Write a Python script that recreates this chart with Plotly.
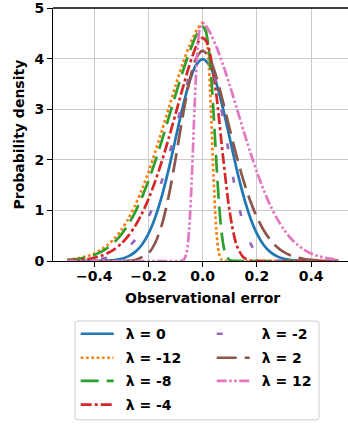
import plotly.graph_objects as go

# ---------------- data ----------------
# lambda = 0
x_l0 = [-0.5, -0.475, -0.45, -0.425, -0.4, -0.375, -0.35, -0.325, -0.3, -0.275, -0.25, -0.225,
        -0.2, -0.175, -0.15, -0.125, -0.1, -0.075, -0.05, -0.025, 0.0, 0.025, 0.05, 0.075, 0.1,
        0.125, 0.15, 0.175, 0.2, 0.225, 0.25, 0.275, 0.3, 0.325, 0.35, 0.375, 0.4, 0.425, 0.45,
        0.475, 0.5]
y_l0 = [0.0, 0.0, 0.0002, 0.0005, 0.0013, 0.0035, 0.0087, 0.0203, 0.0443, 0.0909, 0.1753, 0.3174,
        0.540, 0.863, 1.295, 1.826, 2.420, 3.011, 3.521, 3.867, 3.989, 3.867, 3.521, 3.011, 2.420,
        1.826, 1.295, 0.863, 0.540, 0.3174, 0.1753, 0.0909, 0.0443, 0.0203, 0.0087, 0.0035, 0.0013,
        0.0005, 0.0002, 0.0, 0.0]

# lambda = -12
x_lm12 = [-0.5, -0.475, -0.45, -0.425, -0.4, -0.375, -0.35, -0.325, -0.3, -0.275, -0.25, -0.225,
          -0.2, -0.175, -0.15, -0.125, -0.1, -0.075, -0.05, -0.03, -0.02, -0.01, 0.0, 0.01, 0.02,
          0.03, 0.04, 0.05, 0.06, 0.07, 0.08, 0.09, 0.1, 0.3, 0.5]
y_lm12 = [0.025, 0.041, 0.065, 0.100, 0.150, 0.222, 0.319, 0.449, 0.618, 0.831, 1.092, 1.402,
          1.760, 2.158, 2.587, 3.031, 3.469, 3.881, 4.243, 4.482, 4.581, 4.661, 4.705, 4.606, 4.117,
          3.038, 1.666, 0.625, 0.152, 0.023, 0.002, 0.0, 0.0, 0.0, 0.0]

# lambda = -8
x_lm8 = [-0.5, -0.475, -0.45, -0.425, -0.4, -0.375, -0.35, -0.325, -0.3, -0.275, -0.25, -0.225,
         -0.2, -0.175, -0.15, -0.125, -0.1, -0.075, -0.05, -0.03, -0.02, -0.01, 0.0, 0.01, 0.02,
         0.03, 0.04, 0.05, 0.06, 0.07, 0.08, 0.09, 0.1, 0.11, 0.12, 0.15, 0.3, 0.5]
y_lm8 = [0.019, 0.031, 0.050, 0.079, 0.120, 0.180, 0.264, 0.377, 0.527, 0.718, 0.958, 1.247,
         1.586, 1.971, 2.392, 2.837, 3.287, 3.721, 4.114, 4.385, 4.498, 4.588, 4.628, 4.560, 4.296,
         3.750, 2.933, 1.992, 1.147, 0.548, 0.214, 0.068, 0.017, 0.004, 0.001, 0.0, 0.0, 0.0]

# lambda = -4
x_lm4 = [-0.5, -0.475, -0.45, -0.425, -0.4, -0.375, -0.35, -0.325, -0.3, -0.275, -0.25, -0.225,
         -0.2, -0.175, -0.15, -0.125, -0.1, -0.075, -0.05, -0.025, -0.0125, 0.0, 0.0125, 0.025,
         0.05, 0.075, 0.1, 0.125, 0.15, 0.175, 0.2, 0.25, 0.5]
y_lm4 = [0.008, 0.014, 0.024, 0.040, 0.065, 0.103, 0.158, 0.236, 0.345, 0.492, 0.684, 0.926,
         1.225, 1.579, 1.985, 2.434, 2.909, 3.391, 3.853, 4.234, 4.361, 4.410, 4.349, 4.151,
         3.299, 2.063, 0.956, 0.316, 0.073, 0.011, 0.001, 0.0, 0.0]

# lambda = -2
x_lm2 = [-0.5, -0.45, -0.4, -0.375, -0.35, -0.325, -0.3, -0.275, -0.25, -0.225, -0.2, -0.175,
         -0.15, -0.125, -0.1, -0.075, -0.05, -0.025, 0.0, 0.025, 0.05, 0.075, 0.1, 0.125, 0.15,
         0.175, 0.2, 0.25, 0.3, 0.4, 0.5]
y_lm2 = [0.002, 0.006, 0.022, 0.038, 0.065, 0.109, 0.175, 0.273, 0.414, 0.607, 0.865, 1.194,
         1.598, 2.073, 2.600, 3.143, 3.642, 4.012, 4.155, 3.995, 3.525, 2.820, 2.023, 1.292, 0.729,
         0.361, 0.156, 0.020, 0.001, 0.0, 0.0]

# lambda = 2
x_l2 = [-0.5, -0.4, -0.3, -0.25, -0.2, -0.175, -0.15, -0.125, -0.1, -0.075, -0.05, -0.025, 0.0,
        0.025, 0.05, 0.075, 0.1, 0.125, 0.15, 0.175, 0.2, 0.225, 0.25, 0.275, 0.3, 0.325, 0.35,
        0.375, 0.4, 0.45, 0.5]
y_l2 = [0.0, 0.0, 0.001, 0.020, 0.156, 0.361, 0.729, 1.292, 2.023, 2.820, 3.525, 3.995, 4.155,
        4.012, 3.642, 3.143, 2.600, 2.073, 1.598, 1.194, 0.865, 0.607, 0.414, 0.273, 0.175, 0.109,
        0.065, 0.038, 0.022, 0.006, 0.002]

# lambda = 12
x_l12 = [-0.5, -0.3, -0.15, -0.1, -0.09, -0.08, -0.07, -0.06, -0.05, -0.04, -0.03, -0.02, -0.01,
         0.0, 0.01, 0.02, 0.03, 0.05, 0.075, 0.1, 0.125, 0.15, 0.175, 0.2, 0.225, 0.25, 0.275, 0.3,
         0.325, 0.35, 0.375, 0.4, 0.425, 0.45, 0.475, 0.5]
y_l12 = [0.0, 0.0, 0.0, 0.0, 0.0, 0.002, 0.023, 0.152, 0.625, 1.666, 3.038, 4.117, 4.606,
         4.705, 4.661, 4.581, 4.482, 4.243, 3.881, 3.469, 3.031, 2.587, 2.158, 1.760, 1.402, 1.092,
         0.831, 0.618, 0.449, 0.319, 0.222, 0.150, 0.100, 0.065, 0.041, 0.025]

labels = ["λ = 0", "λ = -12", "λ = -8", "λ = -4", "λ = -2", "λ = 2", "λ = 12"]
x_ticks = [-0.4, -0.2, 0.0, 0.2, 0.4]
y_ticks = [0, 1, 2, 3, 4, 5]

# ---------------- styling / layout ----------------
W, H = 348, 425
ML, MR, MT, MB = 53, 0, 5, 164
PW, PH = W - ML - MR, H - MT - MB


def pxx(px):
    return (px - ML) / PW


def pxy(py):
    return (H - MB - py) / PH


FONT = dict(family="DejaVu Sans", size=14, color="black", weight="bold")
colors = ["#1f77b4", "#ff7f0e", "#2ca02c", "#d62728", "#9467bd", "#8c564b", "#e377c2"]
dashes = ["solid", "2.7px,2.6px", "18px,8px", "11px,3px,3px,3px", "6px,28px", "20px,8px",
          "10px,2.5px,2.5px,2.5px,2.5px,2.5px"]
xs = [x_l0, x_lm12, x_lm8, x_lm4, x_lm2, x_l2, x_l12]
ys = [y_l0, y_lm12, y_lm8, y_lm4, y_lm2, y_l2, y_l12]
legend_ids = ["legend", "legend2", "legend3", "legend4", "legend5", "legend6", "legend7"]

fig = go.Figure()
for lab, xv, yv, c, d, lg in zip(labels, xs, ys, colors, dashes, legend_ids):
    fig.add_trace(go.Scatter(
        x=xv, y=yv, mode="lines", name="\u2002" + lab, legend=lg,
        line=dict(color=c, width=2.7, dash=d, shape="spline", smoothing=0.8),
        hoverinfo="skip"))

# legend slots (column-first like the reference)
col_px = [75.7, 211.7]
row_py = [335.0, 359.3, 382.7, 406.7]
slots = [(0, 0), (0, 1), (0, 2), (0, 3), (1, 0), (1, 1), (1, 2)]
legends = {}
for lg, (c, r) in zip(legend_ids, slots):
    legends[lg] = dict(
        x=pxx(col_px[c]), y=pxy(row_py[r]), xanchor="left", yanchor="middle",
        xref="paper", yref="paper",
        bgcolor="rgba(0,0,0,0)", borderwidth=0, itemwidth=33,
        font=FONT, orientation="v", tracegroupgap=0)

# legend frame (rounded rectangle)
fx0, fx1 = pxx(75.0), pxx(319.0)
fy0, fy1 = pxy(421.7), pxy(321.7)
rx, ry = 3.0 / PW, 3.0 / PH
frame_path = (f"M {fx0+rx},{fy0} L {fx1-rx},{fy0} Q {fx1},{fy0} {fx1},{fy0+ry} "
              f"L {fx1},{fy1-ry} Q {fx1},{fy1} {fx1-rx},{fy1} L {fx0+rx},{fy1} "
              f"Q {fx0},{fy1} {fx0},{fy1-ry} L {fx0},{fy0+ry} Q {fx0},{fy0} {fx0+rx},{fy0} Z")

fig.update_layout(
    width=W, height=H,
    margin=dict(l=ML, r=MR, t=MT, b=MB, pad=0),
    paper_bgcolor="white", plot_bgcolor="white",
    font=FONT,
    showlegend=True,
    xaxis=dict(
        range=[(ML - 202.7) / 271.0, (W - 202.7) / 271.0],
        tickvals=x_ticks, tickformat=".1f",
        ticks="outside", ticklen=5, tickwidth=1.1, tickcolor="black",
        ticklabelstandoff=-3,
        showline=True, linecolor="black", linewidth=1.1, mirror=False,
        showgrid=True, gridcolor="#cbcbcb", gridwidth=1.1, zeroline=False,
        tickfont=FONT),
    yaxis=dict(
        range=[0, 5], tickvals=y_ticks,
        ticks="outside", ticklen=5, tickwidth=1.1, tickcolor="black",
        ticklabeloverflow="allow",
        showline=True, linecolor="black", linewidth=1.1, mirror=False,
        showgrid=True, gridcolor="#cbcbcb", gridwidth=1.1, zeroline=False,
        tickfont=FONT),
    shapes=[
        dict(type="path", path=frame_path, xref="paper", yref="paper",
             line=dict(color="#cccccc", width=1), fillcolor="rgba(255,255,255,0.8)",
             layer="below"),
        dict(type="line", xref="paper", yref="paper", x0=0, x1=1, y0=1, y1=1,
             line=dict(color="black", width=1.3), layer="above"),
    ],
    annotations=[
        dict(text="Observational error", xref="paper", yref="paper",
             x=pxx(202.5), y=pxy(298.0), xanchor="center", yanchor="middle",
             showarrow=False, font=FONT),
        dict(text="Probability density", xref="paper", yref="paper",
             x=pxx(18.0), y=pxy(133.0), xanchor="center", yanchor="middle",
             textangle=-90, showarrow=False, font=FONT),
    ],
    **legends,
)

fig.write_html("out.html", config={"displayModeBar": False})
